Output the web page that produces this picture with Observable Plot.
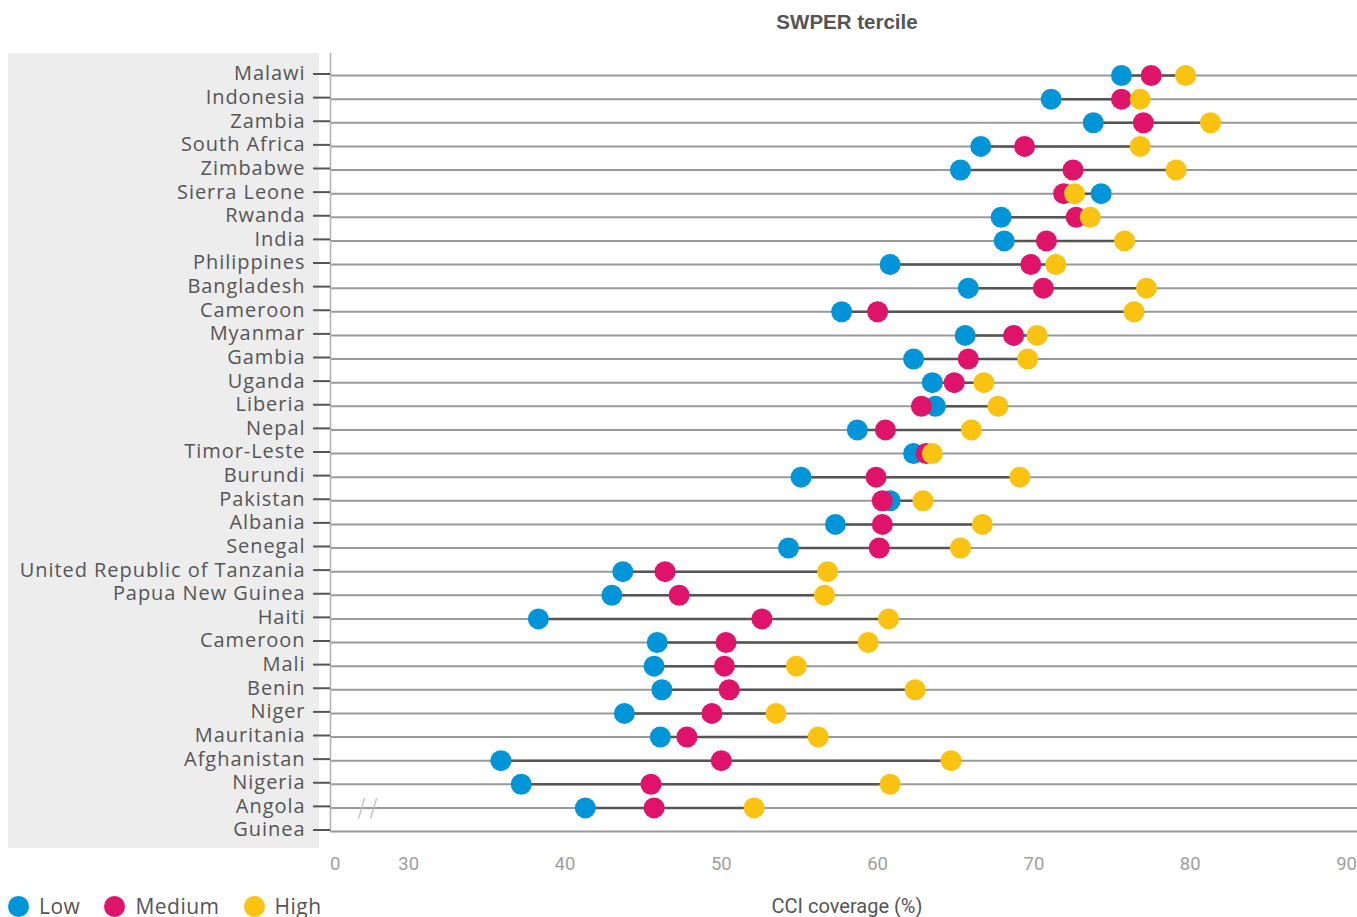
<!DOCTYPE html>
<html>
<head>
<meta charset="utf-8">
<script src="https://cdn.jsdelivr.net/npm/d3@7"></script>
<script src="https://cdn.jsdelivr.net/npm/@observablehq/plot@0.6"></script>
<style>
  body { margin: 0; background: #fff; width: 1357px; height: 917px; overflow: hidden; position: relative; font-family: "Open Sans", sans-serif; }
  #panel { position: absolute; left: 8px; top: 53px; width: 311px; height: 795px; background: #ededed; }
  #chart { position: absolute; left: 0; top: 45px; }
  #title { position: absolute; top: 8px; left: 330px; width: 1034px; text-align: center; font: bold 20.5px/28px "Liberation Sans", Arial, sans-serif; color: #555; }
  #xlabel { position: absolute; left: 647px; width: 400px; top: 894px; text-align: center; font: 20px/24px Roboto, sans-serif; color: #555; }
  #legend { position: absolute; left: 8px; top: 893px; display: flex; align-items: center; font: 21px/26px "Open Sans", sans-serif; color: #555; letter-spacing: 0.5px; }
  #legend .item { display: flex; align-items: center; margin-right: 24px; }
  #legend .sw { width: 21px; height: 21px; border-radius: 50%; margin-right: 10px; }
  #chart g[aria-label="y-axis tick label"] text { letter-spacing: 0.95px; }
  #chart g[aria-label="text"] text { letter-spacing: 4px; }
</style>
</head>
<body>
<div id="panel"></div>
<div id="title">SWPER tercile</div>
<div id="chart"></div>
<div id="xlabel">CCI coverage (%)</div>
<div id="legend"></div>
<script>
const countries = ["Malawi","Indonesia","Zambia","South Africa","Zimbabwe","Sierra Leone","Rwanda","India","Philippines","Bangladesh","Cameroon","Myanmar","Gambia","Uganda","Liberia","Nepal","Timor-Leste","Burundi","Pakistan","Albania","Senegal","United Republic of Tanzania","Papua New Guinea","Haiti","Cameroon","Mali","Benin","Niger","Mauritania","Afghanistan","Nigeria","Angola","Guinea"];
const low    = [75.6, 71.1, 73.8, 66.6, 65.3, 74.3, 67.9, 68.1, 60.8, 65.8, 57.7, 65.6, 62.3, 63.5, 63.7, 58.7, 62.3, 55.1, 60.8, 57.3, 54.3, 43.7, 43.0, 38.3, 45.9, 45.7, 46.2, 43.8, 46.1, 35.9, 37.2, 41.3, null];
const medium = [77.5, 75.6, 77.0, 69.4, 72.5, 71.9, 72.7, 70.8, 69.8, 70.6, 60.0, 68.7, 65.8, 64.9, 62.8, 60.5, 63.1, 59.9, 60.3, 60.3, 60.1, 46.4, 47.3, 52.6, 50.3, 50.2, 50.5, 49.4, 47.8, 50.0, 45.5, 45.7, null];
const high   = [79.7, 76.8, 81.3, 76.8, 79.1, 72.6, 73.6, 75.8, 71.4, 77.2, 76.4, 70.2, 69.6, 66.8, 67.7, 66.0, 63.5, 69.1, 62.9, 66.7, 65.3, 56.8, 56.6, 60.7, 59.4, 54.8, 62.4, 53.5, 56.2, 64.7, 60.8, 52.1, null];
const seriesNames = ["Low", "Medium", "High"];
const seriesColors = ["#0095d9", "#df1369", "#fbc311"];
const xTicks = [25.3, 30, 40, 50, 60, 70, 80, 90];
const xTickLabels = ["0", "30", "40", "50", "60", "70", "80", "90"];
const breakMark = [{x: 27.5, row: 31, label: "//"}];

const rows = countries.map((c, i) => ({i, country: c, low: low[i], medium: medium[i], high: high[i]}));
const withData = rows.filter(r => r.low != null);
const dots = withData.flatMap(r => seriesNames.map((s, k) => ({i: r.i, series: s, value: [r.low, r.medium, r.high][k]})));

const plot = Plot.plot({
  width: 1357, height: 826,
  marginLeft: 330, marginRight: 0, marginTop: 8, marginBottom: 40,
  style: {background: "transparent", fontFamily: "Open Sans", overflow: "visible"},
  x: {domain: [25, 90.7]},
  y: {type: "linear", domain: [0, countries.length - 1], reverse: true, insetTop: 22},
  color: {domain: seriesNames, range: seriesColors},
  marks: [
    Plot.ruleY(rows, {y: "i", stroke: "#9a9a9a", strokeWidth: 2}),
    Plot.ruleX([25], {stroke: "#b0b0b0", strokeWidth: 1.5}),
    Plot.axisY({ticks: rows.map(r => r.i), tickFormat: i => countries[i], tickSize: 17, tickPadding: 8, fontSize: 20, fontFamily: "Open Sans", color: "#555", strokeWidth: 2, dy: -1.5}),
    Plot.axisX({ticks: xTicks, tickFormat: d => xTickLabels[xTicks.indexOf(d)], tickSize: 0, tickPadding: 25, fontSize: 18.5, fontFamily: "Roboto", color: "#a0a0a0"}),
    Plot.text(breakMark, {x: "x", y: "row", text: "label", fontSize: 24, fontWeight: 200, fontFamily: "DejaVu Sans", fill: "#bdbdbd"}),
    Plot.ruleY(withData, {y: "i", x1: d => Math.min(d.low, d.medium, d.high), x2: d => Math.max(d.low, d.medium, d.high), stroke: "#555", strokeWidth: 2.5}),
    Plot.dot(dots, {x: "value", y: "i", fill: "series", r: 10.5})
  ]
});
document.getElementById("chart").appendChild(plot);

const legend = document.getElementById("legend");
seriesNames.forEach((s, k) => {
  const item = document.createElement("div");
  item.className = "item";
  const sw = document.createElement("span");
  sw.className = "sw";
  sw.style.background = seriesColors[k];
  item.appendChild(sw);
  item.appendChild(document.createTextNode(s));
  legend.appendChild(item);
});
</script>
</body>
</html>
